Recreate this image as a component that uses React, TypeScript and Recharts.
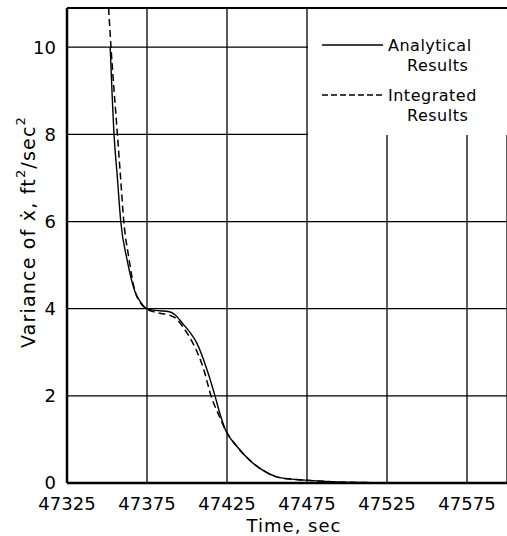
import React from "react";
import {
  LineChart,
  Line,
  XAxis,
  YAxis,
  CartesianGrid,
  ReferenceLine,
  Legend,
} from "recharts";

// Analytical results (solid)
const analyticalTime = [
  47352, 47354.4, 47356.5, 47358.6, 47362.5, 47367.5, 47371, 47375, 47380, 47389,
  47392.5, 47397.5, 47402, 47406, 47412.5, 47417.5, 47420.5, 47424, 47431, 47439,
  47447, 47456, 47465, 47472.5, 47490, 47510, 47530,
];
const analyticalVar = [
  10.0, 8.0, 7.0, 6.0, 5.13, 4.39, 4.15, 4.0, 3.96, 3.93, 3.86, 3.65, 3.45, 3.22,
  2.6, 2.0, 1.6, 1.22, 0.85, 0.53, 0.3, 0.14, 0.09, 0.07, 0.03, 0.01, 0,
];

// Integrated results (dashed)
const integratedTime = [
  47351, 47352.5, 47356.5, 47358.5, 47360.5, 47363.5, 47367.5, 47371, 47375, 47380,
  47388, 47393, 47397.5, 47403.5, 47407, 47410.5, 47415, 47420, 47424, 47431, 47439,
  47447, 47456, 47465, 47472.5, 47490, 47510, 47530,
];
const integratedVar = [
  10.9, 10.0, 8.0, 7.0, 6.0, 5.2, 4.4, 4.13, 3.99, 3.92, 3.86, 3.78, 3.58, 3.22,
  2.95, 2.6, 2.0, 1.55, 1.22, 0.85, 0.53, 0.3, 0.14, 0.09, 0.07, 0.03, 0.01, 0,
];

const xTicks = [47325, 47375, 47425, 47475, 47525, 47575];
const yTicks = [0, 2, 4, 6, 8, 10];
const xDomain = [47325, 47600];
const yMax = 10.9;

const analyticalData = analyticalTime.map((t, i) => ({ t, v: analyticalVar[i] }));
const integratedData = integratedTime.map((t, i) => ({ t, v: integratedVar[i] }));

const FONT = "'DejaVu Sans', sans-serif";

const LegendBox = () => (
  <svg width={199} height={126} style={{ display: "block", background: "#fff" }}>
    <line x1={14} x2={75} y1={36} y2={36} stroke="#000" strokeWidth={1.3} />
    <text x={80} y={36} dominantBaseline="central" fontSize={16} letterSpacing={0.5} fontFamily={FONT} fill="#000">
      Analytical
    </text>
    <text x={99} y={56} dominantBaseline="central" fontSize={16} letterSpacing={0.5} fontFamily={FONT} fill="#000">
      Results
    </text>
    <line x1={14} x2={75} y1={86} y2={86} stroke="#000" strokeWidth={1.5} strokeDasharray="6 3" />
    <text x={80} y={86} dominantBaseline="central" fontSize={16} letterSpacing={0.5} fontFamily={FONT} fill="#000">
      Integrated
    </text>
    <text x={99} y={106} dominantBaseline="central" fontSize={16} letterSpacing={0.5} fontFamily={FONT} fill="#000">
      Results
    </text>
  </svg>
);

const YLabel = () => (
  <text
    transform="translate(28,232) rotate(-90)"
    textAnchor="middle"
    dominantBaseline="central"
    fontSize={19}
    letterSpacing={1.2}
    fontFamily={FONT}
    fill="#000"
  >
    Variance of ẋ, ft
    <tspan dy={-8} fontSize={13}>2</tspan>
    <tspan dy={8}>/sec</tspan>
    <tspan dy={-8} fontSize={13}>2</tspan>
  </text>
);

export default function App() {
  return (
    <div style={{ position: "absolute", left: 0, top: 0, background: "#fff" }}>
      <LineChart
        width={507}
        height={536}
        margin={{ top: 8, right: 0, bottom: 0, left: 0 }}
      >
        <CartesianGrid stroke="#000" strokeWidth={1.3} />
        <XAxis
          dataKey="t"
          type="number"
          domain={xDomain}
          ticks={xTicks}
          allowDuplicatedCategory={false}
          height={53}
          tickLine={false}
          tickMargin={8}
          axisLine={{ stroke: "#000", strokeWidth: 2.5 }}
          tick={{ fill: "#000", fontSize: 18, fontFamily: FONT }}
          label={{
            value: "Time, sec",
            position: "insideBottom",
            offset: 4,
            fill: "#000",
            fontSize: 18,
            letterSpacing: 1,
            fontFamily: FONT,
            dx: 7,
          }}
        />
        <YAxis
          dataKey="v"
          type="number"
          domain={[0, yMax]}
          ticks={yTicks}
          width={67}
          tickLine={false}
          tickMargin={5}
          axisLine={{ stroke: "#000", strokeWidth: 2.5 }}
          tick={{ fill: "#000", fontSize: 18, fontFamily: FONT }}
          label={{ content: () => <YLabel /> }}
        />
        <ReferenceLine y={yMax} stroke="#000" strokeWidth={2} />
        <Legend
          layout="horizontal"
          verticalAlign="middle"
          align="center"
          content={() => <LegendBox />}
          wrapperStyle={{ position: "absolute", left: 308, top: 9, width: 199, height: 126 }}
        />
        <Line
          data={analyticalData}
          dataKey="v"
          type="monotone"
          stroke="#000"
          strokeWidth={1.4}
          dot={false}
          isAnimationActive={false}
        />
        <Line
          data={integratedData}
          dataKey="v"
          type="monotone"
          stroke="#000"
          strokeWidth={1.5}
          strokeDasharray="7 4"
          dot={false}
          isAnimationActive={false}
        />
      </LineChart>
    </div>
  );
}
